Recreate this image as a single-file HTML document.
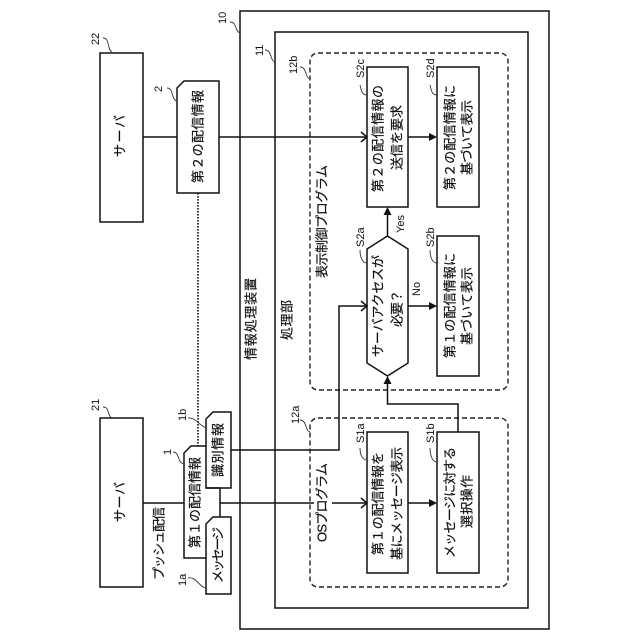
<!DOCTYPE html>
<html><head><meta charset="utf-8"><style>
html,body{margin:0;padding:0;background:#fff}
svg{display:block}
text{font-family:"Liberation Sans","Noto Sans CJK JP",sans-serif;fill:#111}
.s{fill:none;stroke:#111;stroke-width:1.5}
.d{fill:none;stroke:#222;stroke-width:1.4;stroke-dasharray:5 3}
.l{fill:none;stroke:#333;stroke-width:.9}
.j{font-size:13px;stroke:#111;stroke-width:.2}
.n{font-size:11px}
</style></head><body>
<svg width="640" height="640" viewBox="0 0 640 640" xmlns="http://www.w3.org/2000/svg">
<rect width="640" height="640" fill="#fff"/>
<rect class="s" x="240" y="11" width="309" height="618"/>
<rect class="s" x="275" y="32" width="253" height="576"/>
<rect class="d" x="310" y="53" width="198" height="337" rx="8"/>
<rect class="d" x="310" y="418" width="198" height="169" rx="8"/>
<rect class="s" x="100" y="53" width="43" height="169"/>
<rect class="s" x="100" y="418" width="43" height="169"/>
<path class="s" d="M177 88L184 81H219V193H177Z"/>
<path class="s" d="M206 446H191L184 453V558H206M206 488H220V517"/>
<path class="s" d="M206 419L213 412H231V488H206Z"/>
<path class="s" d="M206 524L213 517H231V594H206Z"/>
<line x1="198" y1="193" x2="198" y2="446" stroke="#111" stroke-width="1.6" stroke-dasharray="1.6 1.4"/>
<path class="s" d="M143 137H177M219 137H367M143 503H184M220 503H314M332 503H367M231 450H339V306H367"/>
<path class="s" d="M361 132L367 137L361 142M361 301L367 306L361 311M361 498L367 503L361 508"/>
<rect class="s" x="367" y="67" width="41" height="140"/>
<rect class="s" x="437" y="67" width="42" height="140"/>
<rect class="s" x="437" y="236" width="42" height="140"/>
<rect class="s" x="367" y="432" width="41" height="141"/>
<rect class="s" x="437" y="432" width="42" height="141"/>
<path class="s" d="M387.500 236L408 249V363L387.500 376L367 363V249Z"/>
<path class="s" d="M408 137H430M387.500 236V214M408 306H430M408 503H430M458 432V404H387.500V383"/>
<path fill="#111" d="M437 137L429 133V141ZM387.500 207L383.500 215H391.500ZM437 306L429 302V310ZM437 503L429 499V507ZM387.500 376L383.500 384H391.500Z"/>
<g class="l">
<path class="l" d="M103 38C110 38 107 50 112 52"/>
<path class="l" d="M103 407C110 407 107 416 112 418"/>
<path class="l" d="M167 88C174 88 171 100 177 101"/>
<path class="l" d="M173 452C180 452 177 463 184 464"/>
<path class="l" d="M188 578C196 576 200 588 206 588"/>
<path class="l" d="M188 418C196 417 200 427 207 428"/>
<path class="l" d="M230 22C237 22 235 32 240 33"/>
<path class="l" d="M265 50C272 50 270 61 275 62"/>
<path class="l" d="M300 67C307 67 305 78 310 79"/>
<path class="l" d="M300 420C307 420 305 431 310 432"/>
<path class="l" d="M367 95C361 95 361 88 360 85"/>
<path class="l" d="M437 95C431 95 431 88 430 85"/>
<path class="l" d="M367 263C361 263 360 254 360 250"/>
<path class="l" d="M437 263C431 263 430 254 430 250"/>
<path class="l" d="M367 460C361 460 360 452 360 448"/>
<path class="l" d="M437 462C431 462 430 452 430 448"/>
</g>
<g class="j">
<text transform="translate(124.500,157) rotate(-90)" textLength="42">サーバ</text>
<text transform="translate(124.500,522) rotate(-90)" textLength="40">サーバ</text>
<text transform="translate(202.500,183) rotate(-90)" textLength="93">第２の配信情報</text>
<text transform="translate(199.500,548) rotate(-90)" textLength="91">第１の配信情報</text>
<text transform="translate(222.500,477) rotate(-90)" textLength="54">識別情報</text>
<text transform="translate(222.500,583) rotate(-90)" textLength="56">メッセージ</text>
<text transform="translate(163.500,580) rotate(-90)" textLength="73">プッシュ配信</text>
<text transform="translate(255.500,360) rotate(-90)" textLength="82">情報処理装置</text>
<text transform="translate(291.500,340) rotate(-90)" textLength="40">処理部</text>
<text transform="translate(326.500,278) rotate(-90)" textLength="113">表示制御プログラム</text>
<text transform="translate(326.500,542) rotate(-90)" textLength="79">OSプログラム</text>
<text transform="translate(382.500,192) rotate(-90)" textLength="107">第２の配信情報の</text>
<text transform="translate(401.500,170) rotate(-90)" textLength="65">送信を要求</text>
<text transform="translate(454.500,190) rotate(-90)" textLength="105">第２の配信情報に</text>
<text transform="translate(471.500,175) rotate(-90)" textLength="75">基づいて表示</text>
<text transform="translate(382.500,357) rotate(-90)" textLength="102">サーバアクセスが</text>
<text transform="translate(401.500,327) rotate(-90)" textLength="37">必要？</text>
<text transform="translate(454.500,358) rotate(-90)" textLength="105">第１の配信情報に</text>
<text transform="translate(471.500,345) rotate(-90)" textLength="78">基づいて表示</text>
<text transform="translate(382.500,555) rotate(-90)" textLength="103">第１の配信情報を</text>
<text transform="translate(401.500,560) rotate(-90)" textLength="113">基にメッセージ表示</text>
<text transform="translate(454.500,558) rotate(-90)" textLength="111">メッセージに対する</text>
<text transform="translate(471.500,528) rotate(-90)" textLength="53">選択操作</text>
</g>
<g class="n">
<text transform="translate(99,45) rotate(-90)">22</text>
<text transform="translate(99,411) rotate(-90)">21</text>
<text transform="translate(162,92) rotate(-90)">2</text>
<text transform="translate(171,455) rotate(-90)">1</text>
<text transform="translate(186,586) rotate(-90)">1a</text>
<text transform="translate(186,421) rotate(-90)">1b</text>
<text transform="translate(226,24) rotate(-90)">10</text>
<text transform="translate(263,56) rotate(-90)">11</text>
<text transform="translate(297,74) rotate(-90)">12b</text>
<text transform="translate(299,424) rotate(-90)">12a</text>
<text transform="translate(364,78) rotate(-90)">S2c</text>
<text transform="translate(434,78) rotate(-90)">S2d</text>
<text transform="translate(364,247) rotate(-90)">S2a</text>
<text transform="translate(434,247) rotate(-90)">S2b</text>
<text transform="translate(364,443) rotate(-90)">S1a</text>
<text transform="translate(434,443) rotate(-90)">S1b</text>
<text transform="translate(404,233) rotate(-90)">Yes</text>
<text transform="translate(420,296) rotate(-90)">No</text>
</g>
</svg>
</body></html>
